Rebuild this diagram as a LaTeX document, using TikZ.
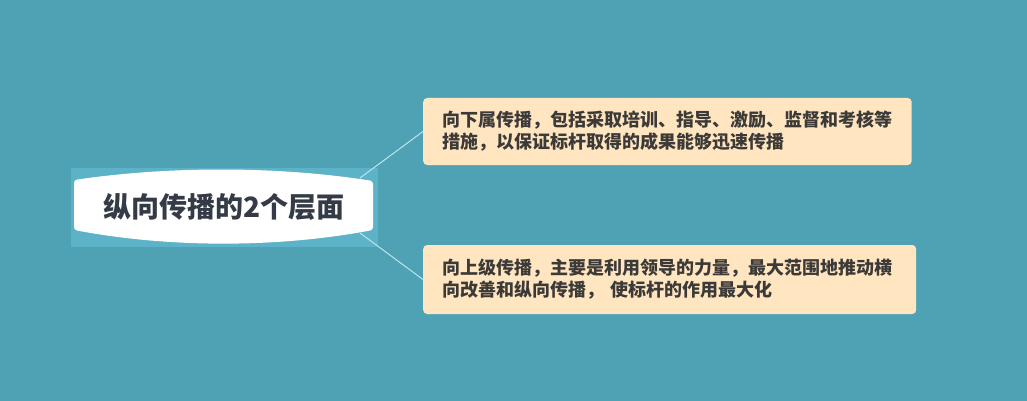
\documentclass[tikz,border=0pt]{standalone}
\usepackage{fontspec}
\newfontfamily\cjk{Noto Sans CJK SC}
\usepackage{xcolor}
\definecolor{bgteal}{RGB}{79,162,180}
\definecolor{hlteal}{RGB}{92,178,198}
\definecolor{leaffill}{RGB}{255,229,192}
\definecolor{linkcol}{RGB}{190,228,236}
\definecolor{maintext}{RGB}{52,58,70}
\definecolor{leaftext}{RGB}{60,58,56}

\begin{document}
\begin{tikzpicture}[x=1pt, y=-1pt, font=\cjk\bfseries,
    leaf/.style={fill=leaffill, rounded corners=4pt, anchor=west, align=left,
        text width=450.5pt, inner xsep=19pt, text=leaftext,
        font=\cjk\bfseries\fontsize{18pt}{22pt}\selectfont},
    link/.style={linkcol, line width=1pt}]
        % background and selection frame
        \fill[bgteal] (0,0) rectangle (1027,401);
        \useasboundingbox (0,0) rectangle (1027,401);
        \fill[hlteal] (71,168) rectangle (378,247);
        % central topic, curved top and bottom
        \fill[white, rounded corners=3pt] (74,180) .. controls (170,166) and (277,166) .. (373,181)
            -- (373,230) .. controls (277,248) and (170,248) .. (74,230) -- cycle;
        \node[text=maintext, font=\cjk\bfseries\fontsize{28pt}{32pt}\selectfont] (topic) at (224,207) {纵向传播的2个层面};
        \coordinate (jtop) at (360,178);
        \coordinate (jbot) at (360,233);
        % subtopics
        \node[leaf, minimum height=67pt] (down) at (423,131.5) {向下属传播，包括采取培训、指导、激励、监督和考核等\\措施，以保证标杆取得的成果能够迅速传播};
        \node[leaf, minimum height=69pt, text width=455pt] (up) at (423,279.5) {向上级传播，主要是利用领导的力量，最大范围地推动横\\向改善和纵向传播， 使标杆的作用最大化};
        \draw[link] (jtop) -- (down.west);
        \draw[link] (jbot) -- (up.west);
    \end{tikzpicture}
\end{document}
